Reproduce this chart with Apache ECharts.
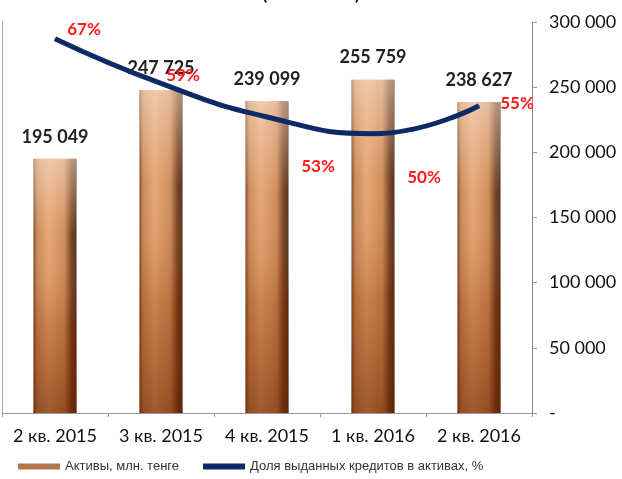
<!DOCTYPE html>
<html>
<head>
<meta charset="utf-8">
<script src="https://cdn.jsdelivr.net/npm/echarts@6/dist/echarts.min.js"></script>
<style>
  html, body { margin: 0; padding: 0; background: #fff; }
  #chart { width: 622px; height: 479px; }
</style>
</head>
<body>
<div id="chart"></div>
<script>
// данные
const quarters = ['2 кв. 2015', '3 кв. 2015', '4 кв. 2015', '1 кв. 2016', '2 кв. 2016']
const assets = [195049, 247725, 239099, 255759, 238627]
const loanShare = [67, 59, 53, 50, 55]
const assetTicks = [0, 50000, 100000, 150000, 200000, 250000, 300000]

// смещения подписей процентов (только оформление)
const shareLabelOffsets = [[29, -9], [22, -8], [51, 50], [51, 44], [38, -2]]

const chart = echarts.init(document.getElementById('chart'))

const fmt = v => v === 0 ? '-' : String(v).replace(/\B(?=(\d{3})+(?!\d))/g, ' ')
const font = 'Lato, "Noto Sans", sans-serif'

const barFill = new echarts.graphic.LinearGradient(0, 0, 1, 0, [
  { offset: 0, color: '#6e3a1a' },
  { offset: 0.08, color: '#c4824f' },
  { offset: 0.35, color: '#e2a270' },
  { offset: 0.72, color: '#c98450' },
  { offset: 0.88, color: '#6a3516' },
  { offset: 1, color: '#40200c' },
])
const barShade = new echarts.graphic.LinearGradient(0, 0, 0, 1, [
  { offset: 0, color: 'rgba(255,235,220,0.55)' },
  { offset: 0.3, color: 'rgba(255,220,190,0.1)' },
  { offset: 0.65, color: 'rgba(150,60,15,0.3)' },
  { offset: 1, color: 'rgba(110,40,5,0.6)' },
])

const option = {
  animation: false,
  title: {
    text: '(млн. тенге)',
    left: 'center',
    top: -20,
    textStyle: { fontSize: 18, fontWeight: 'bold', color: '#111', fontFamily: font },
  },
  grid: { left: 2, right: 90, top: 22, bottom: 66 },
  legend: {
    left: 13,
    bottom: 1,
    itemWidth: 42,
    itemHeight: 6,
    itemGap: 24,
    textStyle: { fontSize: 13, color: '#333', fontFamily: '"Liberation Sans", Arial, sans-serif' },
    data: [
      { name: 'Активы, млн. тенге', icon: 'rect', itemStyle: { color: '#b5764a' } },
      { name: 'Доля выданных кредитов в активах, %', icon: 'rect', itemStyle: { color: '#0d2a66' } },
    ],
  },
  xAxis: {
    type: 'category',
    data: quarters,
    axisLine: { lineStyle: { color: '#999' } },
    axisTick: { show: true, length: 4, lineStyle: { color: '#999' } },
    axisLabel: { interval: 0, hideOverlap: false, fontSize: 18, color: '#111', margin: 14, fontFamily: font },
  },
  yAxis: [
    {
      type: 'value',
      position: 'right',
      min: assetTicks[0],
      max: assetTicks[assetTicks.length - 1],
      interval: 50000,
      axisLine: { show: true, lineStyle: { color: '#888' } },
      axisTick: { show: true, length: 5, lineStyle: { color: '#999' } },
      splitLine: { show: false },
      axisLabel: { fontSize: 18, color: '#111', margin: 17, formatter: fmt, fontFamily: font },
    },
    {
      type: 'value',
      position: 'left',
      min: 0,
      max: 70,
      axisLine: { show: true, lineStyle: { color: '#aaa' } },
      axisTick: { show: false },
      axisLabel: { show: false },
      splitLine: { show: false },
    },
  ],
  series: [
    {
      name: 'Активы, млн. тенге',
      type: 'bar',
      data: assets,
      barWidth: 43,
      itemStyle: { color: barFill },
      label: {
        show: true,
        position: 'top',
        distance: 13,
        formatter: p => fmt(p.value),
        fontSize: 18,
        fontWeight: 'bold',
        color: '#222',
        fontFamily: font,
      },
      z: 2,
    },
    {
      name: 'shade',
      type: 'bar',
      data: assets,
      barWidth: 43,
      barGap: '-100%',
      silent: true,
      itemStyle: { color: barShade },
      z: 3,
    },
    {
      name: 'Доля выданных кредитов в активах, %',
      type: 'line',
      yAxisIndex: 1,
      data: loanShare.map((v, i) => ({
        value: v,
        label: { offset: shareLabelOffsets[i] },
      })),
      smooth: 0.5,
      symbol: 'circle',
      symbolSize: 1,
      itemStyle: { color: '#0d2a66' },
      lineStyle: { width: 5, color: '#0d2a66' },
      label: {
        show: true,
        position: 'inside',
        formatter: '{c}%',
        fontSize: 17,
        fontWeight: 'bold',
        color: '#ff1a1a',
        fontFamily: font,
      },
      z: 5,
    },
  ],
}

chart.setOption(option)
</script>
</body>
</html>
